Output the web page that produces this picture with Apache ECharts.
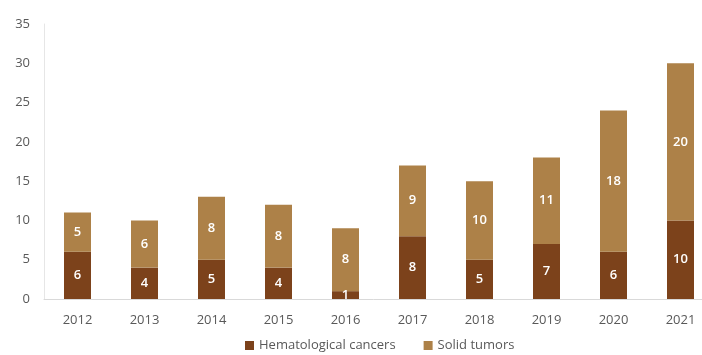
<!DOCTYPE html>
<html>
<head>
<meta charset="utf-8">
<script src="https://cdn.jsdelivr.net/npm/echarts@6/dist/echarts.min.js"></script>
<style>
  html, body { margin: 0; padding: 0; background: #fff; }
  #chart { width: 702px; height: 355px; }
</style>
</head>
<body>
<div id="chart"></div>
<script>
var years = ['2012', '2013', '2014', '2015', '2016', '2017', '2018', '2019', '2020', '2021']
var hematological = [6, 4, 5, 4, 1, 8, 5, 7, 6, 10]
var solidTumors = [5, 6, 8, 8, 8, 9, 10, 11, 18, 20]
var yTicks = { min: 0, max: 35, interval: 5 }

var myChart = echarts.init(document.getElementById('chart'))
var labelStyle = {
  show: true,
  position: 'inside',
  color: '#fff',
  fontSize: 13,
  fontWeight: 600,
  fontFamily: 'Open Sans'
}
var option = {
  animation: false,
  textStyle: { fontFamily: 'Open Sans' },
  grid: { left: 44, top: 24, width: 670, height: 275, outerBoundsMode: 'none', containLabel: false },
  legend: {
    bottom: -2,
    left: 240,
    itemWidth: 9,
    itemHeight: 9,
    itemGap: 28,
    icon: 'rect',
    textStyle: { color: '#595959', fontSize: 13 },
    data: ['Hematological cancers', 'Solid tumors']
  },
  xAxis: {
    type: 'category',
    data: years,
    axisLine: { lineStyle: { color: '#d9d9d9' } },
    axisTick: { show: false },
    axisLabel: { color: '#595959', fontSize: 13, margin: 15 }
  },
  yAxis: {
    type: 'value',
    min: yTicks.min,
    max: yTicks.max,
    interval: yTicks.interval,
    axisLine: { show: true, lineStyle: { color: '#e6e6e6' } },
    splitLine: { show: false },
    axisLabel: { color: '#595959', fontSize: 13, margin: 14 }
  },
  series: [
    {
      name: 'Hematological cancers',
      type: 'bar',
      stack: 'total',
      barWidth: 27,
      itemStyle: { color: '#7c421b' },
      label: labelStyle,
      data: hematological
    },
    {
      name: 'Solid tumors',
      type: 'bar',
      stack: 'total',
      barWidth: 27,
      itemStyle: { color: '#ad8148' },
      label: labelStyle,
      data: solidTumors
    }
  ]
}
myChart.setOption(option)
</script>
</body>
</html>
